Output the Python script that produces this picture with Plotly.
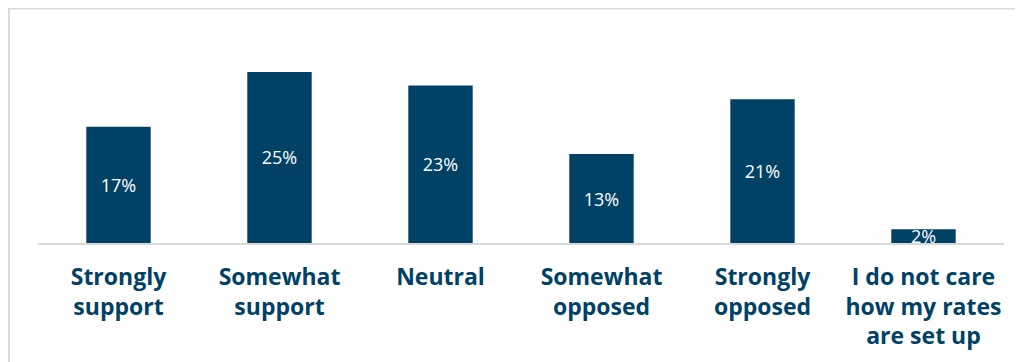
import plotly.graph_objects as go

categories = ["Strongly<br>support", "Somewhat<br>support", "Neutral",
              "Somewhat<br>opposed", "Strongly<br>opposed",
              "I do not care<br>how my rates<br>are set up"]
values = [17, 25, 23, 13, 21, 2]
labels = ["17%", "25%", "23%", "13%", "21%", "2%"]

# the page body has an 8px offset; figure coords = screen coords - 8
OFF = 8
W, H = 1023, 362
ml = 37.5 - OFF
mr = W - (1004.5 - OFF)
mt = 24 - OFF
mb = H - (243 - OFF)
pw = W - ml - mr
ph = H - mt - mb

fig = go.Figure(go.Bar(
    x=categories, y=values, text=labels,
    marker=dict(color="#004166", line=dict(width=0)),
    textposition="inside", insidetextanchor="middle", constraintext="none",
    textfont=dict(color="white", size=18, family="Open Sans"),
    cliponaxis=False,
))

def px2paper_x(px):
    return (px - ml) / pw

def px2paper_y(py):
    return (H - mb - py) / ph

border = dict(color="#d9d9d9", width=2)
fig.add_shape(type="line", xref="paper", yref="paper",
              x0=px2paper_x(0.5), x1=px2paper_x(0.5), y0=px2paper_y(0), y1=px2paper_y(H + 5), line=border)
fig.add_shape(type="line", xref="paper", yref="paper",
              x0=px2paper_x(0), x1=px2paper_x(W + 5), y0=px2paper_y(0.5), y1=px2paper_y(0.5), line=border)

fig.update_layout(
    width=W, height=H,
    margin=dict(l=ml, r=mr, t=mt, b=mb, pad=0),
    paper_bgcolor="white", plot_bgcolor="white",
    bargap=0.6, showlegend=False,
    font=dict(family="Open Sans", color="#004166"),
    xaxis=dict(showline=True, linecolor="#d9d9d9", linewidth=2, ticks="outside",
               ticklen=12, tickcolor="rgba(0,0,0,0)", showgrid=False, zeroline=False,
               tickfont=dict(size=23, family="Open Sans", color="#004166", weight="bold"),
               tickangle=0),
    yaxis=dict(visible=False, range=[0, 32]),
)

fig.write_html("out.html")
